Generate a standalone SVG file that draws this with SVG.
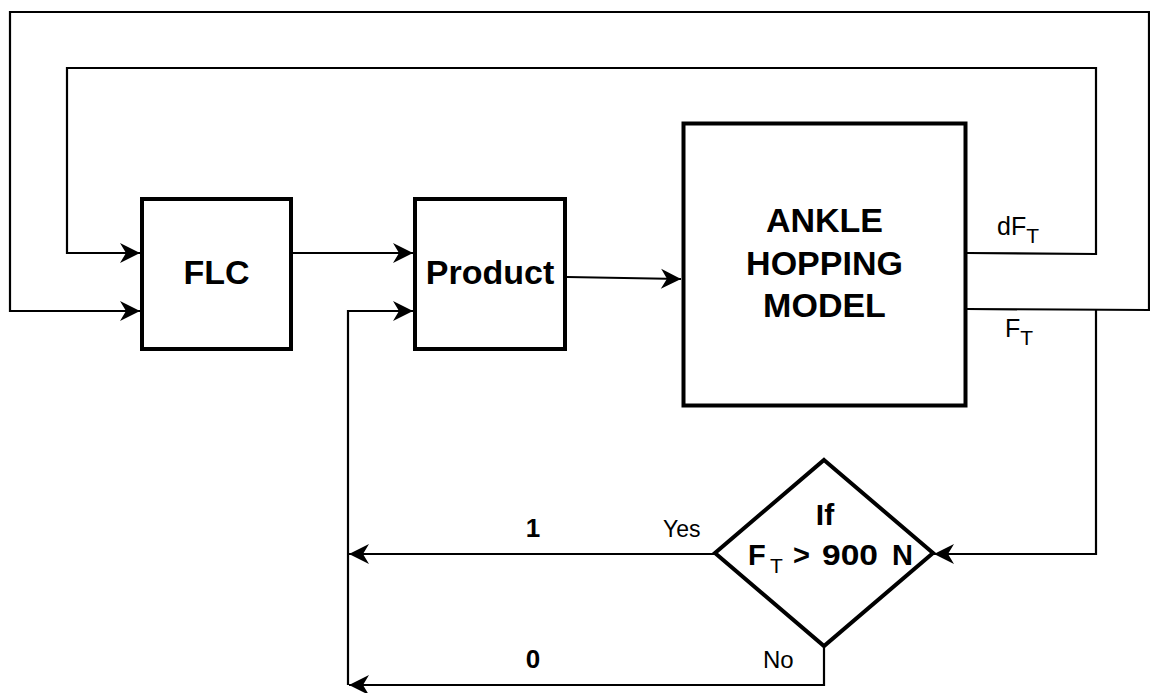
<svg xmlns="http://www.w3.org/2000/svg" width="1150" height="693" viewBox="0 0 1150 693">
<style>
.box{fill:#fff;stroke:#000;stroke-width:4}
.wire{fill:none;stroke:#000;stroke-width:2.2}
.t{font-family:"Liberation Sans",Arial,sans-serif;fill:#000}
.big{font-size:34px;font-weight:bold}
.lbl{font-size:25px}
.num{font-size:26px;font-weight:bold}
</style>
<defs>
<marker id="arr" markerUnits="userSpaceOnUse" markerWidth="24" markerHeight="24" viewBox="-22 -12 24 24" refX="0" refY="0" orient="auto">
<path d="M0,0 L-20,-10 L-14,0 L-20,10 Z" fill="#000"/>
</marker>
</defs>
<rect width="1150" height="693" fill="#fff"/>
<g id="connectors">
<path class="wire" d="M967,309 L1149,310 L1149,12 L10,12 L10,311 L140,311" marker-end="url(#arr)"/>
<path class="wire" d="M967,253 L1096,254 L1096,68 L67,68 L67,253 L140,253" marker-end="url(#arr)"/>
<path class="wire" d="M293,253 L413,253" marker-end="url(#arr)"/>
<path class="wire" d="M567,277 L681,279" marker-end="url(#arr)"/>
<path class="wire" d="M1096,309 L1096,554 L934,554" marker-end="url(#arr)"/>
<path class="wire" d="M715,554 L349,554" marker-end="url(#arr)"/>
<path class="wire" d="M824,646 L824,685 L349,685" marker-end="url(#arr)"/>
<path class="wire" d="M348,685 L348,311 L413,311" marker-end="url(#arr)"/>
</g>
<g id="flc">
<rect class="box" x="142" y="199" width="149" height="150"/>
<text class="t big" x="216.5" y="284" text-anchor="middle">FLC</text>
</g>
<g id="product">
<rect class="box" x="415" y="199" width="150" height="150"/>
<text class="t big" x="490" y="284" text-anchor="middle">Product</text>
</g>
<g id="model">
<rect class="box" x="683.5" y="123.5" width="282" height="282"/>
<text class="t big" x="824.5" y="232" text-anchor="middle">ANKLE</text>
<text class="t big" x="824.5" y="275" text-anchor="middle">HOPPING</text>
<text class="t big" x="824.5" y="317" text-anchor="middle">MODEL</text>
</g>
<g id="decision">
<polygon class="box" points="824,460 933,553 824,646 715,553"/>
<text class="t" x="825" y="525" text-anchor="middle" font-size="30" font-weight="bold">If</text>
<text class="t" y="565" font-size="29" font-weight="bold"><tspan x="748">F</tspan><tspan x="770" dy="8" font-size="21" font-weight="normal">T</tspan><tspan x="793" dy="-8">&gt;</tspan><tspan x="822" textLength="56" lengthAdjust="spacingAndGlyphs">900</tspan><tspan x="892">N</tspan></text>
</g>
<g id="labels">
<text class="t lbl" y="235"><tspan x="997">dF</tspan><tspan dy="8" font-size="21">T</tspan></text>
<text class="t lbl" y="337"><tspan x="1005">F</tspan><tspan dy="8" font-size="21">T</tspan></text>
<text class="t num" x="533" y="537" text-anchor="middle">1</text>
<text class="t" x="663" y="537" font-size="23">Yes</text>
<text class="t num" x="533" y="668" text-anchor="middle">0</text>
<text class="t" x="763" y="668" font-size="24">No</text>
</g>
</svg>
